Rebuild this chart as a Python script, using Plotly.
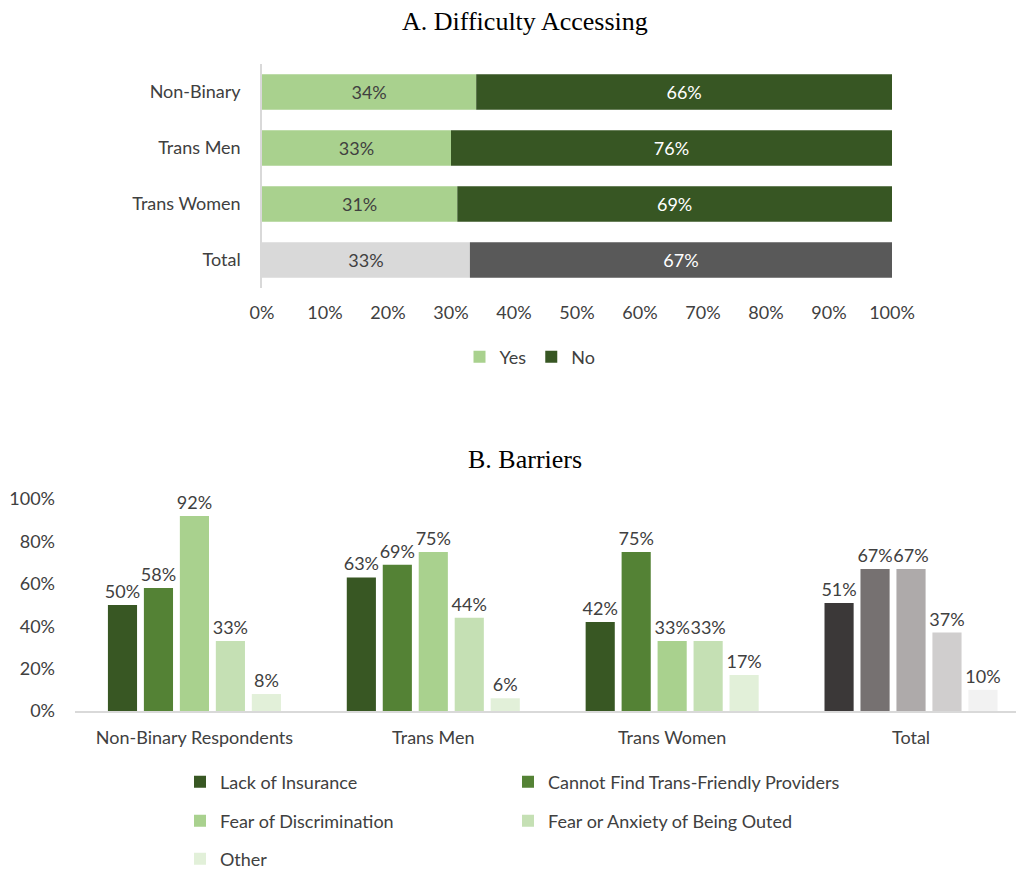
import plotly.graph_objects as go

# ---------------- Data ----------------
groups_a = ["Non-Binary", "Trans Men", "Trans Women", "Total"]
yes_vals = [34, 30, 31, 33]
no_vals = [66, 70, 69, 67]
yes_labels = ["34%", "33%", "31%", "33%"]
no_labels = ["66%", "76%", "69%", "67%"]

groups_b = ["Non-Binary Respondents", "Trans Men", "Trans Women", "Total"]
barrier_names = ["Lack of Insurance", "Cannot Find Trans-Friendly Providers",
                 "Fear of Discrimination", "Fear or Anxiety of Being Outed", "Other"]
lack_insurance = [50, 63, 42, 51]
cannot_find = [58, 69, 75, 67]
fear_discrimination = [92, 75, 33, 67]
fear_outed = [33, 44, 33, 37]
other = [8, 6, 17, 10]

x_ticks = [0, 10, 20, 30, 40, 50, 60, 70, 80, 90, 100]
x_tick_labels = ["0%", "10%", "20%", "30%", "40%", "50%", "60%", "70%", "80%", "90%", "100%"]
y_ticks_b = [0, 20, 40, 60, 80, 100]
y_tick_labels_b = ["0%", "20%", "40%", "60%", "80%", "100%"]

# ---------------- Styles ----------------
PAGE_OFF = 8                      # default body margin of the html page
W, H = 1024 - PAGE_OFF, 869 - PAGE_OFF
FONT = "Lato"
TXT = "#404040"
FS = 18

yes_colors = ["#a9d18e", "#a9d18e", "#a9d18e", "#d9d9d9"]
no_colors = ["#375623", "#375623", "#375623", "#595959"]

green = ["#385723", "#548235", "#a9d18e", "#c5e0b4", "#e2f0d9"]
gray = ["#3b3838", "#767171", "#aeaaaa", "#d0cece", "#f2f2f2"]
# legend box for each barrier series: (legend id, left px, center y px)
legend_slots = [("legend2", 180, 782), ("legend5", 508, 782),
                ("legend3", 180, 821), ("legend6", 508, 821),
                ("legend4", 180, 859)]


def px_x(p):
    return (p - PAGE_OFF) / W


def px_y(p):
    return 1 - (p - PAGE_OFF) / H


fig = go.Figure()

# ---------- A. Difficulty Accessing ----------
fig.add_trace(go.Bar(
    name="Yes", orientation="h", y=groups_a, x=yes_vals,
    marker=dict(color=yes_colors, line=dict(width=0)),
    width=0.63, offset=-0.315,
    text=yes_labels, textposition="inside", insidetextanchor="middle", textangle=0,
    constraintext="none",
    textfont=dict(family=FONT, size=FS, color=TXT),
    xaxis="x", yaxis="y", legend="legend",
))
fig.add_trace(go.Bar(
    name="No", orientation="h", y=groups_a, x=no_vals, base=yes_vals,
    marker=dict(color=no_colors, line=dict(width=0)),
    width=0.63, offset=-0.315,
    text=no_labels, textposition="inside", insidetextanchor="middle", textangle=0,
    constraintext="none",
    textfont=dict(family=FONT, size=FS, color="white"),
    xaxis="x", yaxis="y", legend="legend",
))

# ---------- B. Barriers ----------
series_b = [lack_insurance, cannot_find, fear_discrimination, fear_outed, other]
for i, (name, vals) in enumerate(zip(barrier_names, series_b)):
    colors = [green[i], green[i], green[i], gray[i]]
    fig.add_trace(go.Bar(
        name=name, x=groups_b, y=vals,
        marker=dict(color=colors, line=dict(width=0)),
        text=[f"{v}%" for v in vals], textposition="outside", cliponaxis=False,
        constraintext="none",
        textfont=dict(family=FONT, size=FS, color=TXT),
        xaxis="x2", yaxis="y2", legend=legend_slots[i][0],
    ))

legend_boxes = {}
for lid, lx, ly in legend_slots:
    legend_boxes[lid] = dict(orientation="h", font=dict(family=FONT, size=FS, color=TXT),
                             bgcolor="rgba(0,0,0,0)", xanchor="left", yanchor="middle",
                             x=px_x(lx), y=px_y(ly))

fig.update_layout(
    width=W, height=H,
    margin=dict(l=0, r=0, t=0, b=0, autoexpand=False),
    paper_bgcolor="white", plot_bgcolor="white",
    font=dict(family=FONT, size=FS, color=TXT),
    barmode="group", bargap=0.247, bargroupgap=0.19,
    xaxis=dict(domain=[px_x(262), px_x(892)], range=[0, 100], tickvals=x_ticks,
               ticktext=x_tick_labels, showgrid=False, zeroline=False, showline=False,
               anchor="y", ticklabelstandoff=12, fixedrange=True),
    yaxis=dict(domain=[px_y(288), px_y(64)], autorange="reversed",
               categoryorder="array", categoryarray=groups_a,
               showline=True, linecolor="#d9d9d9", linewidth=1.5,
               showgrid=False, zeroline=False, anchor="x", ticklabelstandoff=16),
    xaxis2=dict(domain=[px_x(75), 1.0], range=[-0.5, 3.473],
                showline=True, linecolor="#d9d9d9", linewidth=1.5,
                showgrid=False, zeroline=False, anchor="y2", ticklabelstandoff=10),
    yaxis2=dict(domain=[px_y(711), px_y(499)], range=[0, 100], tickvals=y_ticks_b,
                ticktext=y_tick_labels_b, showgrid=False, zeroline=False, showline=False,
                anchor="x2", ticklabelstandoff=19),
    legend=dict(orientation="h", x=px_x(530), xanchor="center", y=px_y(357),
                yanchor="middle", font=dict(family=FONT, size=FS, color=TXT),
                bgcolor="rgba(0,0,0,0)"),
    annotations=[
        dict(text="A. Difficulty Accessing", x=px_x(525), y=px_y(22), xref="paper",
             yref="paper", showarrow=False, xanchor="center", yanchor="middle",
             font=dict(family="Liberation Serif", size=26, color="black")),
        dict(text="B. Barriers", x=px_x(525), y=px_y(459), xref="paper",
             yref="paper", showarrow=False, xanchor="center", yanchor="middle",
             font=dict(family="Liberation Serif", size=26, color="black")),
    ],
    showlegend=True,
)
fig.update_layout(**legend_boxes)

fig.write_html("out.html")
